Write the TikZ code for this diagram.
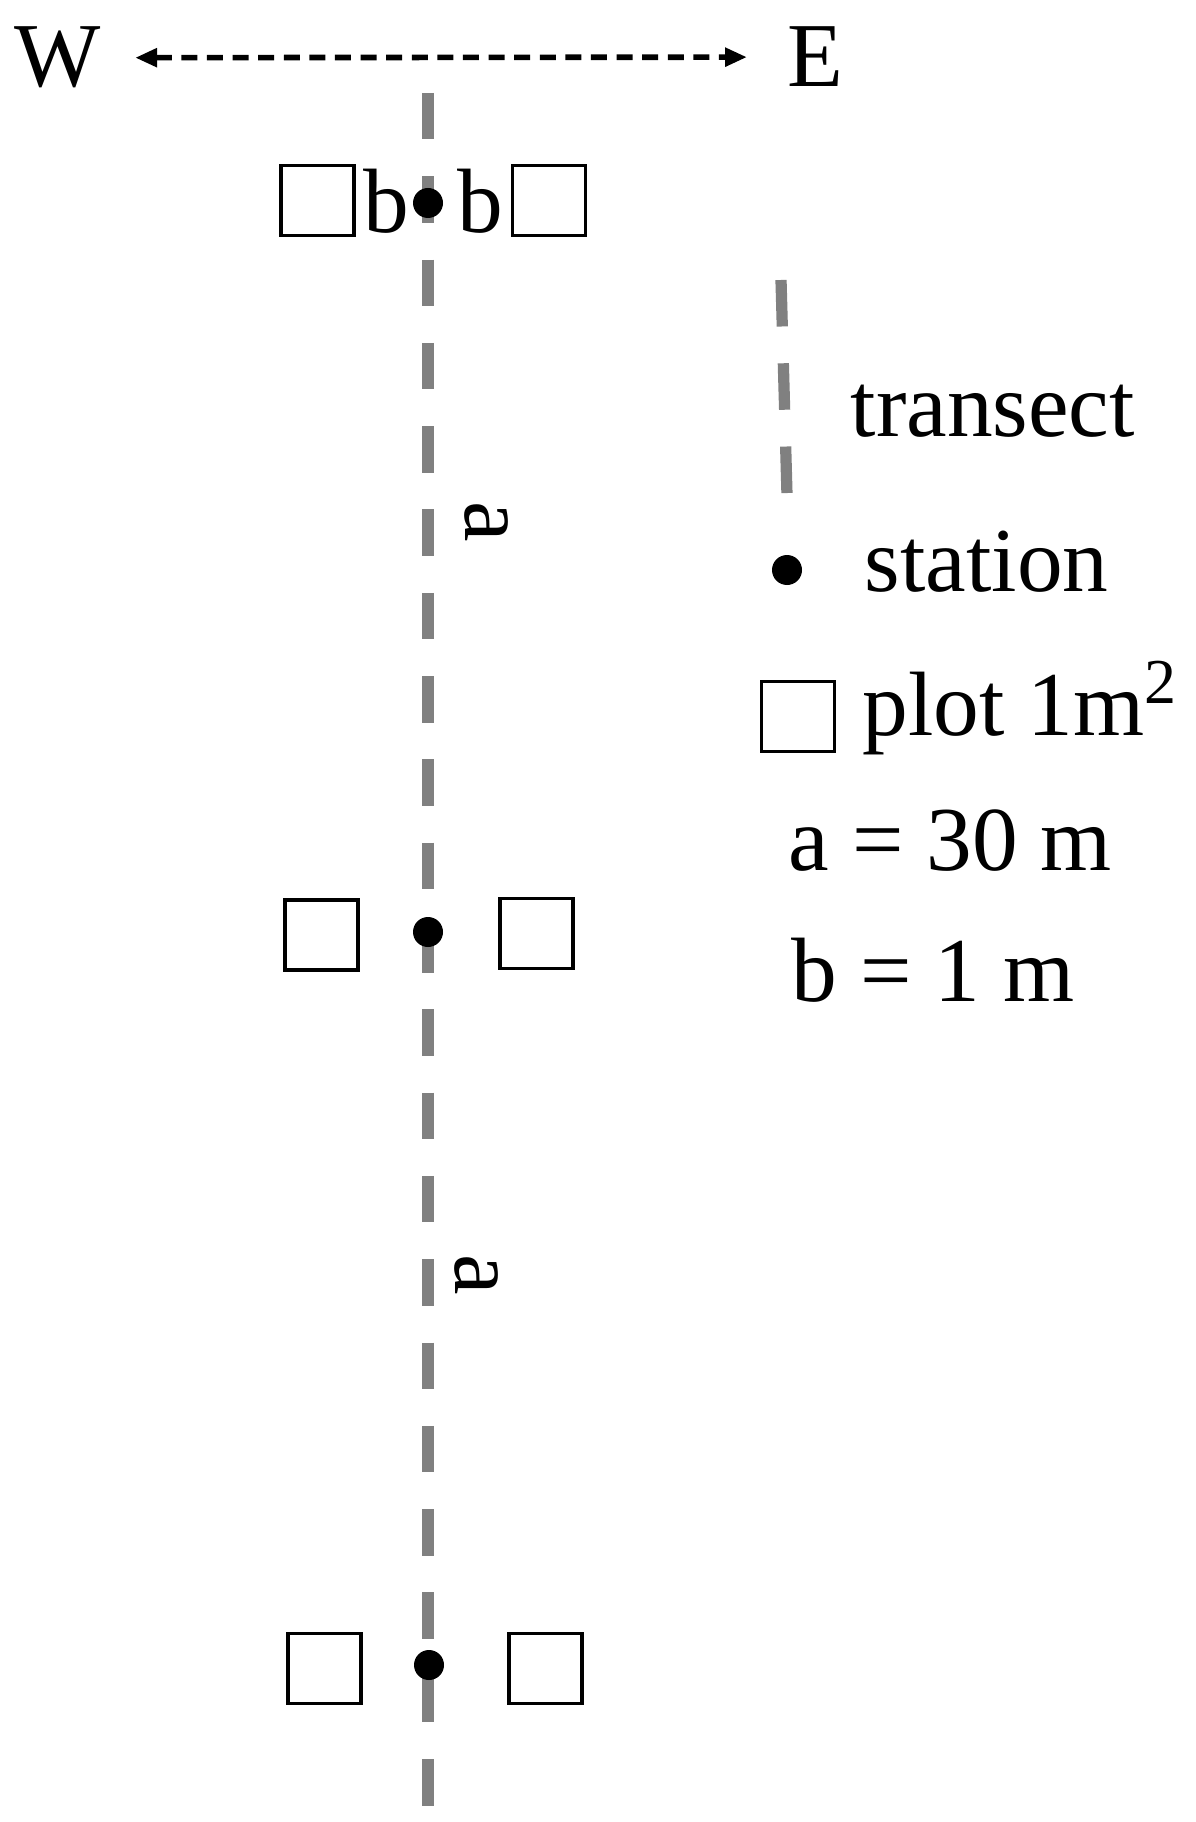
\documentclass[tikz,border=0pt]{standalone}
\usepackage{fontspec}
\setmainfont{Liberation Serif}
\usetikzlibrary{arrows.meta}

\begin{document}
\begin{tikzpicture}
[%%%%%%%%%%%%%%%%%%%%%%%%%%%%%%
plotbox/.style={rectangle,draw=black,line width=0.9pt,minimum width=0.73cm,minimum height=0.70cm,inner sep=0pt},
station/.style={circle,fill=black,minimum size=0.30cm,inner sep=0pt},
transect/.style={draw=gray,line width=3.2pt,dash pattern=on 0.465cm off 0.368cm},
lbl/.style={inner sep=0pt,font=\fontsize{26}{30}\selectfont},
ewline/.style={line width=1.6pt,dash pattern=on 0.16cm off 0.096cm,
  {Triangle[length=0.22cm,width=0.18cm]}-{Triangle[length=0.22cm,width=0.18cm]},
  shorten <=0.335cm,shorten >=0.40cm},
]%%%%%%%%%%%%%%%%%%%%%%%%%%%%%%

\useasboundingbox (0,0) rectangle (11.95,-18.22);

% W - E
\node[lbl,anchor=base west] (W) at (0.14,-0.87) {W};
\node[lbl,anchor=base west] (E) at (7.87,-0.87) {E};
\draw[ewline] (W) -- (E);

% transect
\coordinate (ttop) at (4.28,-0.93);
\coordinate (tbot) at (4.28,-18.06);
\draw[transect] (ttop) -- (tbot);

% stations
\node[station] (s1) at (4.28,-2.03) {};
\node[station] (s2) at (4.28,-9.32) {};
\node[station] (s3) at (4.29,-16.65) {};

% plots
\node[plotbox] (p1w) at (3.175,-2.005) {};
\node[plotbox] (p1e) at (5.49,-2.005) {};
\node[plotbox] (p2w) at (3.215,-9.35) {};
\node[plotbox] (p2e) at (5.365,-9.335) {};
\node[plotbox] (p3w) at (3.245,-16.685) {};
\node[plotbox] (p3e) at (5.455,-16.685) {};

% distances
\node[lbl,anchor=base west] (b1) at (3.63,-2.33) {b};
\node[lbl,anchor=base west] (b2) at (4.57,-2.33) {b};
\node[lbl,rotate=-90] (a1) at (4.86,-5.22) {a};
\node[lbl,rotate=-90] (a2) at (4.76,-12.75) {a};

% legend
\coordinate (lt1) at (7.81,-2.80);
\coordinate (lt2) at (7.87,-4.95);
\draw[transect] (lt1) -- (lt2);
\node[lbl,anchor=base west] (ltxt) at (8.50,-4.37) {transect};
\node[station] (ls) at (7.87,-5.70) {};
\node[lbl,anchor=base west] (lstxt) at (8.64,-5.91) {station};
\node[plotbox] (lp) at (7.98,-7.165) {};
\node[lbl,anchor=base west] (lptxt) at (8.62,-7.35) {plot 1m\textsuperscript{2}};
\node[lbl,anchor=base west] (la) at (7.88,-8.70) {a = 30 m};
\node[lbl,anchor=base west] (lb) at (7.91,-10.01) {b = 1 m};
\end{tikzpicture}
\end{document}
